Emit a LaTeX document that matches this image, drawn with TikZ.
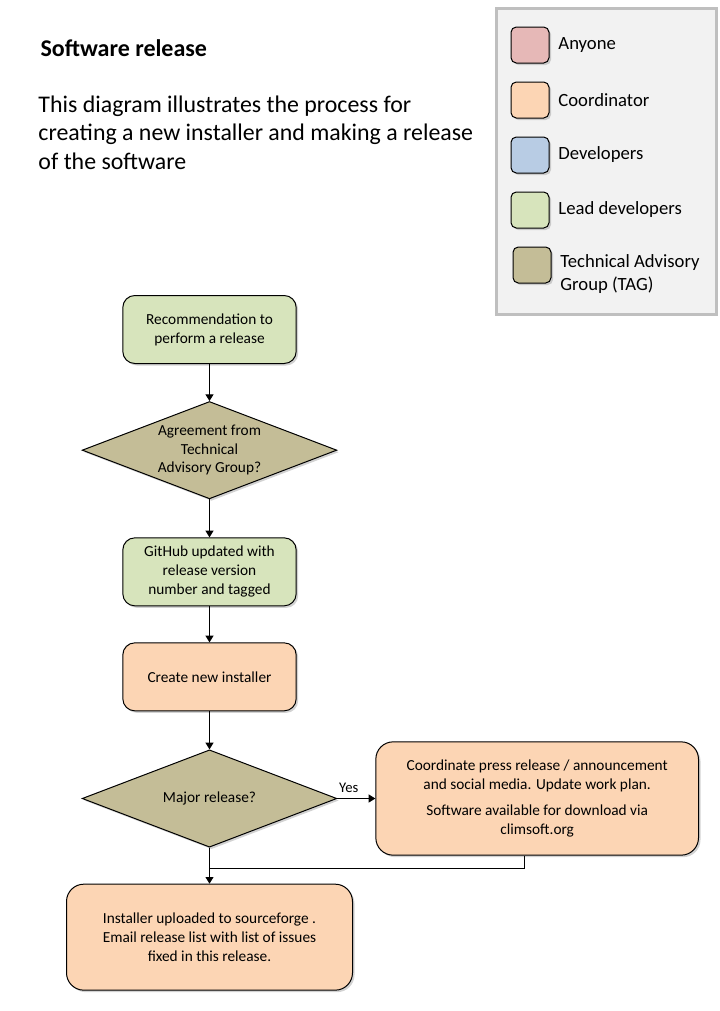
\documentclass[tikz,border=0pt]{standalone}
\usepackage{fontspec}
\setmainfont{Carlito}
\usetikzlibrary{arrows.meta, shapes, shadows, positioning}
\definecolor{anyone}{HTML}{E6B8B7}
\definecolor{coordinator}{HTML}{FCD5B4}
\definecolor{developers}{HTML}{B8CCE4}
\definecolor{leaddev}{HTML}{D7E4BC}
\definecolor{tag}{HTML}{C4BD97}
\definecolor{legendfill}{HTML}{F2F2F2}
\definecolor{legendline}{HTML}{BFBFBF}
\tikzset{> = { Triangle[length = 5pt, width = 6pt] }}

\begin{document}
\begin{tikzpicture}[x = 0.75pt, y = -0.75pt, ->, line width = 0.75pt,
		boxshadow/.style = {drop shadow={opacity=0.35,shadow xshift=1.5pt,shadow yshift=-1.5pt}},
		stepbox/.style = { draw, boxshadow, rounded corners = 9pt, align = center, minimum width = 130pt, minimum height = 51pt, font = \fontsize{11.5}{14.25}\selectfont },
		bigbox/.style = { stepbox, rounded corners = 13pt, fill = coordinator },
		decision/.style = { draw, boxshadow, diamond, aspect = 2.6, inner sep = 0pt, minimum width = 191pt, minimum height = 73pt, align = center, fill = tag, font = \fontsize{11.5}{14}\selectfont },
		swatch/.style = { draw, boxshadow, rounded corners = 4pt, minimum width = 28.5pt, minimum height = 27pt },
		key/.style = { right = 3pt of #1, align = left, font = \fontsize{14}{17}\selectfont }]
	\useasboundingbox [fill = white] (0,0) rectangle (720,1011);

	\node [anchor = west, inner sep = 0pt, font = \bfseries\fontsize{18}{21}\selectfont] (title) at (40,48) {Software release};
	\node [anchor = north west, align = left, inner sep = 0pt, font = \fontsize{17.9}{21.4}\selectfont] (intro) at (38,95) {This diagram illustrates the process for\\creating a new installer and making a release\\of the software};

	\draw [-, draw = legendline, line width = 2.25pt, fill = legendfill] (496,8) rectangle (716,314);
	\node [swatch, fill = anyone] (k1) at (530,45) {};
	\node [swatch, fill = coordinator, below = 13.5pt of k1] (k2) {};
	\node [swatch, fill = developers, below = 13.5pt of k2] (k3) {};
	\node [swatch, fill = leaddev, below = 13.5pt of k3] (k4) {};
	\node [swatch, fill = tag, below = 13.5pt of k4, xshift = 1.5pt] (k5) {};
	\node [key = k1] (l1) {Anyone};
	\node [key = k2] (l2) {Coordinator};
	\node [key = k3] (l3) {Developers};
	\node [key = k4] (l4) {Lead developers};
	\node [key = k5, yshift = -6.75pt] (l5) {Technical Advisory\\Group (TAG)};

	\node [stepbox, fill = leaddev] (recommend) at (209.5,329.5) {Recommendation to\\perform a release};
	\node [decision, below = 27.75pt of recommend] (agree) {Agreement from\\Technical\\Advisory Group?};
	\node [stepbox, fill = leaddev, below = 28.5pt of agree] (github) {GitHub updated with\\release version\\number and tagged};
	\node [stepbox, fill = coordinator, below = 27pt of github] (installer) {Create new installer};
	\node [decision, below = 28.5pt of installer] (major) {Major release?};
	\node [bigbox, minimum width = 242pt, minimum height = 85pt, right = 28.5pt of major] (press) {Coordinate press release / announcement\\and social media. Update work plan.\\[5pt]Software available for download via\\climsoft.org};
	\node [bigbox, minimum width = 214.5pt, minimum height = 79.5pt, below = 27pt of major] (upload) {Installer uploaded to sourceforge .\\Email release list with list of issues\\fixed in this release.};
	\coordinate [below = 15.75pt of major.south] (join);

	\draw (recommend) -- (agree);
	\draw (agree) -- (github);
	\draw (github) -- (installer);
	\draw (installer) -- (major);
	\draw (major) -- node[above = 1pt, pos = 0.3, font = \fontsize{11}{13}\selectfont]{Yes} (press);
	\draw (major) -- (upload);
	\draw [-] ([xshift = -9.4pt]press.south) |- (join);
\end{tikzpicture}
\end{document}
